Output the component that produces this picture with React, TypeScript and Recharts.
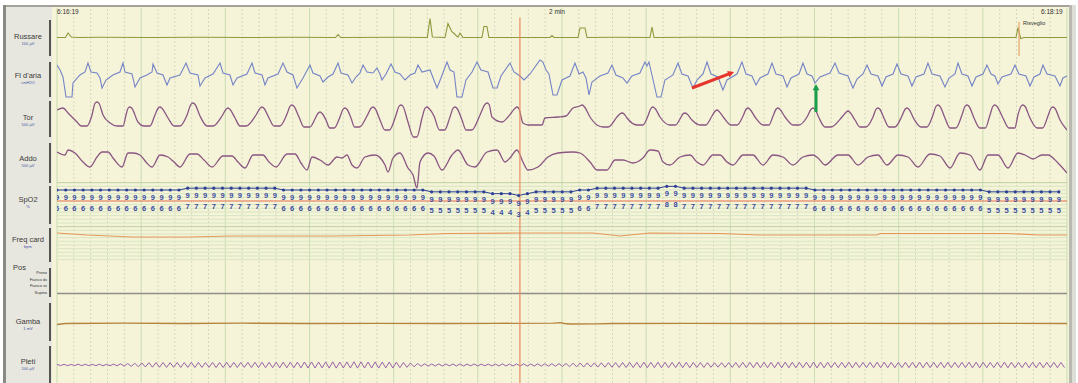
import React from 'react';
import { ComposedChart, Line, XAxis, YAxis, ReferenceLine } from 'recharts';

// 2 minute page, time in seconds
const majorTicks = [0, 10, 20, 30, 40, 50, 60, 70, 80, 90, 100, 110, 120];
const minorTicks = [2, 4, 6, 8, 12, 14, 16, 18, 22, 24, 26, 28, 32, 34, 36, 38, 42, 44, 46, 48, 52, 54, 56, 58, 62, 64, 66, 68, 72, 74, 76, 78, 82, 84, 86, 88, 92, 94, 96, 98, 102, 104, 106, 108, 112, 114, 116, 118];
const cursorTime = 55;
const arousalTime = 114.3;

// [t (s), value]
const russare = [[0,0],[1.0,0],[1.31,4.5],[1.7,0.5],[2.5,0],[5.1,0.2],[11,0],[17,0.3],[23,0],[28,0.2],[33.1,0],[33.39,3],[33.7,0],[40.7,0.3],[44.0,0],[44.32,19],[44.6,0.5],[46.1,0],[46.45,14],[46.9,6],[47.3,3],[47.64,0.3],[47.88,4.5],[48.23,0],[50.49,0],[50.73,11],[51.08,11],[51.32,0],[58.57,0],[58.81,2],[59.05,0],[61.9,0],[62.14,9.5],[62.73,9.5],[62.97,0],[66,0.2],[70.45,0],[70.69,10.5],[70.93,0],[76,0.3],[82,0],[88,0.2],[94,0],[100,0.3],[106,0],[113.94,0],[114.17,10],[114.5,-1],[114.9,0],[120,0]];

const flusso = [[0,13],[0.36,8],[0.71,1],[1.07,-19],[1.78,-19],[1.90,-5],[2.73,3],[3.33,6],[3.68,15],[4.04,6],[4.75,5],[5.11,0],[5.35,-10],[5.82,-2],[6.65,3],[7.48,6],[7.84,15],[8.08,6],[8.91,4],[9.27,-9],[9.86,0],[10.69,3],[11.29,6],[11.41,14],[11.88,5],[12.59,3],[13.07,-7],[13.43,0],[14.61,3],[15.33,15],[15.80,5],[16.75,3],[16.99,-8],[17.58,0],[18.53,4],[19.37,15],[19.72,5],[20.55,3],[20.91,-7],[21.39,0],[22.57,4],[23.17,15],[23.52,5],[24.36,3],[24.71,-7],[25.07,0],[26.26,4],[26.85,15],[27.33,6],[28.04,3],[28.51,-10],[29.23,0],[30.06,13],[30.41,5],[31.25,2],[31.60,-4],[32.20,1],[32.79,4],[33.39,15],[33.74,5],[34.57,3],[35.05,-5],[35.52,1],[36.00,5],[36.36,13],[36.83,6],[37.54,5],[38.02,10],[38.37,4],[38.61,-2],[39.09,4],[39.68,14],[40.16,6],[40.75,4],[41.35,-2],[41.94,3],[42.53,5],[42.89,13],[43.37,6],[44.32,8],[45.15,-10],[45.62,0],[46.34,16],[46.69,8],[47.17,6],[47.52,-19],[48.12,-19],[48.59,-2],[49.31,6],[49.90,16],[50.37,8],[51.21,6],[51.80,-10],[52.28,-10],[52.75,2],[53.82,15],[54.29,6],[55.01,2],[55.48,-2],[56.20,4],[57.38,18],[57.74,16],[58.10,8],[58.45,4],[58.93,-17],[59.40,-17],[60.00,-2],[60.95,2],[61.54,15],[62.02,4],[62.49,6],[62.85,0],[63.21,-17],[63.56,-4],[64.51,2],[65.46,5],[65.94,13],[66.41,3],[67.24,0],[67.72,-5],[68.31,2],[69.26,5],[69.85,16],[70.09,12],[70.33,16],[70.69,3],[71.28,-19],[71.76,-19],[72.23,-2],[73.18,3],[73.78,15],[74.25,4],[74.97,2],[75.56,-10],[76.04,-2],[76.75,4],[77.23,16],[77.70,4],[78.53,1],[79.12,-12],[79.60,-2],[80.79,4],[81.38,16],[81.86,4],[82.57,2],[83.05,-7],[83.52,0],[84.47,4],[84.95,15],[85.42,4],[86.26,2],[86.73,-9],[87.21,0],[88.16,4],[88.63,15],[89.11,4],[89.70,2],[90.06,-5],[90.65,1],[91.84,5],[92.44,15],[92.91,5],[93.98,2],[94.57,-10],[95.05,-1],[95.76,4],[96.24,13],[96.71,4],[97.54,2],[98.02,-8],[98.49,1],[99.33,4],[99.80,14],[100.28,4],[101.11,2],[101.58,-8],[102.06,1],[103.01,4],[103.48,15],[103.96,4],[104.91,2],[105.50,-9],[105.98,0],[106.69,4],[107.05,15],[107.52,4],[108.23,2],[108.71,-8],[109.19,1],[110.02,4],[110.49,13],[110.97,4],[111.44,2],[111.80,-6],[112.27,1],[113.34,4],[113.82,13],[114.29,4],[115.12,2],[115.60,-8],[116.08,1],[116.79,4],[117.14,13],[117.62,4],[118.57,2],[119.16,-8],[119.52,0],[120,2]];

const torace = [
  [0,15],[0.71,17],[1.31,12],[2.38,3],[2.86,-1],[3.56,-1],
  [4.16,10],[4.5,21.5],[4.75,23],[5.0,21.5],[5.47,10],[6.30,2],[7.14,-1],[7.84,-1],
  [8.20,10],[8.42,16.5],[8.67,18],[8.92,16.5],[9.62,3],[10.34,-1],[11.04,-1],
  [11.64,10],[11.99,16.5],[12.24,18],[12.49,16.5],[13.19,7],[13.91,-1],[14.61,-1],
  [15.45,10],[15.91,20.5],[16.16,22],[16.41,20.5],[16.99,9],[17.83,-1],[18.53,-1],
  [19.60,9],[20.07,15.5],[20.32,17],[20.57,15.5],[21.15,7],[21.75,-1],[22.45,-1],
  [23.64,10],[24.11,16.5],[24.36,18],[24.61,16.5],[25.19,7],[25.79,-1],[26.49,-1],
  [27.33,11],[27.67,18.5],[27.92,20],[28.17,18.5],[28.75,8],[29.35,-2],[30.05,-2],
  [30.65,6],[31.0,11.5],[31.25,13],[31.5,11.5],[31.96,5],[32.4,-3],[32.95,-3],
  [33.62,8],[33.97,15.5],[34.22,17],[34.47,15.5],[34.93,7],[35.35,-2],[35.95,-2],
  [36.83,9],[37.29,16.5],[37.54,18],[37.79,16.5],[38.38,5],[38.95,-5],[39.5,-5],
  [40.28,10],[40.62,18.5],[40.87,20],[41.12,18.5],[41.70,3],[42.35,-12],[42.75,-12],
  [43.37,7],[43.71,16.5],[43.96,18],[44.21,16.5],[44.79,9],[45.45,-5],[46.05,-5],
  [46.69,8],[47.04,16.5],[47.29,18],[47.54,16.5],[48.12,5],[48.6,-5],[49.3,-5],
  [50.26,10],[50.84,20.5],[51.09,22],[51.34,20.5],[51.68,8],[52.87,3],[53.58,8],
  [54.4,16.5],[54.65,18],[54.9,16],[55.36,2],[56.0,0],[57.62,0],[57.98,7],[59.52,8],[60.47,9],
  [61.31,17],[62.13,19],[62.38,20],[62.63,18.5],[63.33,8],[64.16,0],[64.9,-2],[65.5,-2],
  [66.53,8],[66.88,11],[67.13,12],[67.38,11],[67.72,7],[68.9,0],[69.6,0],
  [70.21,9],[70.56,16.5],[70.81,18],[71.06,16.5],[71.64,8],[72.8,0],[73.5,0],
  [74.02,6],[74.36,11],[74.61,12],[74.86,11],[75.44,5],[76.4,0],[77.1,0],
  [77.82,9],[78.16,13.5],[78.41,15],[78.66,13.5],[79.25,7],[80.1,0],[80.8,0],
  [81.51,9],[81.85,15.5],[82.10,17],[82.35,15.5],[82.93,8],[83.9,0],[84.6,0],
  [85.07,9],[85.41,15.5],[85.66,17],[85.91,15.5],[86.50,8],[87.45,0],[88.15,0],
  [89.11,8],[89.57,15.5],[89.82,17],[90.07,15.5],[90.54,7],[91.25,-2],[91.95,-2],
  [93.27,8],[93.73,12.5],[93.98,14],[94.23,12.5],[94.81,5],[95.4,-2],[96.1,-2],
  [96.95,8],[97.29,15.5],[97.54,17],[97.79,15.5],[98.25,7],[98.85,-2],[99.55,-2],
  [100.39,9],[100.74,15.5],[100.99,17],[101.24,15.5],[101.82,6],[102.65,-2],[103.35,-2],
  [104.08,10],[104.42,18.5],[104.67,20],[104.92,18.5],[105.50,7],[106.1,-3],[106.8,-3],
  [107.52,10],[107.87,18.5],[108.12,20],[108.37,18.5],[108.95,7],[109.65,-3],[110.3,-3],
  [110.85,10],[111.19,18.5],[111.44,20],[111.69,18.5],[112.39,7],[113.1,-3],[113.8,-3],
  [114.17,10],[114.52,18.5],[114.77,20],[115.02,18.5],[115.60,7],[116.45,-3],[117.1,-3],
  [117.74,9],[118.08,16.5],[118.33,18],[118.58,16.5],[119.17,5],[120,-5],
];

const addome = [[0,15],[0.95,12],[1.31,17],[2.14,14],[3.09,5],[3.92,0],[4.75,10],[5.35,15],[6.06,15],[6.65,9],[7.72,0],[8.44,14],[9.03,14],[9.86,12],[10.57,5],[11.29,0],[12.24,12],[13.19,10],[13.90,5],[14.61,0],[15.80,13],[16.63,13],[17.47,7],[18.42,0],[19.72,11],[20.79,11],[21.50,5],[22.34,-1],[23.29,12],[24.47,12],[25.19,5],[26.02,0],[27.33,13],[28.28,13],[28.99,4],[29.70,-3],[30.30,10],[31.25,7],[32.20,2],[33.27,10],[33.86,9],[34.45,12],[35.05,2],[35.64,-1],[36.59,10],[37.78,12],[38.97,2],[39.33,-5],[39.92,9],[40.75,14],[41.70,-1],[42.30,-8],[42.77,-21],[43.13,5],[44.08,14],[44.79,11],[45.74,-3],[46.93,12],[47.64,17],[48.83,2],[49.66,0],[51.09,15],[52.28,17],[53.23,5],[53.82,9],[54.65,17],[55.36,5],[55.96,-3],[57.15,0],[58.33,10],[59.52,14],[61.31,15],[62.14,14],[63.33,5],[64.16,-3],[65.35,-3],[66.30,7],[67.25,7],[68.43,4],[69.62,9],[70.45,17],[71.40,16],[72.00,5],[72.83,2],[74.02,10],[75.21,12],[76.04,5],[76.75,2],[77.94,12],[78.77,12],[79.60,5],[80.32,2],[81.51,12],[82.69,12],[83.88,2],[85.07,12],[86.26,10],[87.44,2],[88.63,10],[89.82,12],[90.42,9],[91.25,2],[92.79,12],[93.98,12],[95.17,2],[96.36,10],[97.54,12],[98.61,2],[99.92,12],[101.11,10],[102.29,0],[103.72,13],[104.91,11],[106.10,-1],[107.29,14],[108.47,12],[109.66,-3],[110.61,12],[111.80,12],[112.99,-1],[114.17,14],[115.01,12],[115.96,8],[117.03,12],[117.74,12],[118.93,4],[120,-6]];

// SpO2 %, one reading per column
const SPO2_STEP = 1.035;
const spo2 = [
  96, 96, 96, 96, 96, 96, 96, 96, 96, 96, 96, 96, 96, 96, 96,
  97, 97, 97, 97, 97, 97, 97, 97, 97, 97, 97,
  96, 96, 96, 96, 96, 96, 96, 96, 96, 96, 96, 96, 96, 96, 96, 96, 96,
  95, 95, 95, 95, 95, 95, 95,
  94, 94, 94, 93, 94,
  95, 95, 95, 95, 95, 96, 96,
  97, 97, 97, 97, 97, 97, 97, 97, 98, 98,
  97, 97, 97, 97, 97, 97, 97, 97, 97, 97, 97, 97, 97, 97, 97,
  96, 96, 96, 96, 96, 96, 96, 96, 96, 96, 96, 96, 96, 96, 96, 96, 96, 96, 96, 96,
  95, 95, 95, 95, 95, 95, 95, 95, 95,
];
const spo2Threshold = 90;
const spo2Grid = [100, 98, 96, 94, 92, 88, 86, 84, 82, 80, 78, 76, 74, 72, 70, 68, 66, 64, 62, 60, 58];

const freqCard = [[0,64],[3.56,62],[9.03,60],[15.45,60],[20.91,61],[32.79,61],[41.94,62],[46.34,63.5],[54.65,64],[63.68,64],[66.89,61],[70.45,64],[78.77,63.5],[83.52,62],[97.42,62],[97.78,63.5],[112.87,63.5],[116.79,62],[120,62]];

const posizione = [[0,0],[120,0]];

const gamba = [[0,-1],[1,0],[8,0.3],[15,0],[22,0.3],[30,0],[38,0.2],[46,0],[52,0.2],[59,0.3],[59.8,0.8],[60.3,0],[61,-0.5],[64,-0.3],[66,0],[75,0.2],[85,0],[95,0.2],[105,0],[112,0.2],[120,0]];

const PLETI_STEP = 0.42;
const pleti = [
  0.6,-0.6,0.7,-0.7,0.6,-0.6,0.8,-0.7,0.7,-0.6,0.7,-0.7,0.8,-0.8,0.7,-0.7,0.9,-0.8,1.2,-1.1,1.5,-1.4,
  1.8,-1.8,2.0,-2.0,2.3,-2.2,2.4,-2.3,2.5,-2.4,2.4,-2.3,2.5,-2.5,2.4,-2.4,2.6,-2.5,2.5,-2.4,2.4,-2.4,2.6,-2.5,2.5,-2.5,2.7,-2.6,2.6,-2.5,2.5,-2.4,2.6,-2.6,2.7,-2.6,2.8,-2.7,2.7,-2.7,2.8,-2.8,2.9,-2.8,2.8,-2.8,2.9,-2.9,
  3.0,-3.0,3.1,-3.0,3.0,-2.9,3.1,-3.1,3.2,-3.1,3.0,-3.0,3.1,-3.0,3.2,-3.1,3.1,-3.0,3.0,-3.0,3.1,-3.1,3.0,-2.9,3.0,-3.0,2.8,-2.7,2.5,-2.3,2.0,-1.8,1.5,
  -1.3,1.2,-1.1,1.0,-1.0,1.1,-1.0,1.0,-0.9,1.0,-1.0,1.1,-1.0,0.9,-0.9,1.0,-1.0,0.9,-0.8,0.9,-0.9,1.0,-1.0,1.1,-1.0,1.0,-1.0,1.1,-1.1,1.2,-1.1,1.1,-1.1,1.2,-1.2,1.3,-1.2,1.3,-1.3,1.4,-1.4,1.5,
  -1.7,1.8,-1.9,2.0,-2.0,2.1,-2.0,2.1,-2.1,2.2,-2.2,2.3,-2.3,2.4,-2.4,
  2.5,-2.5,2.6,-2.6,2.7,-2.7,2.8,-2.7,2.7,-2.6,2.8,-2.8,2.7,-2.7,2.6,-2.6,2.8,-2.7,2.7,-2.7,
  2.6,-2.5,2.4,-2.4,2.3,-2.3,2.2,-2.2,2.3,-2.3,2.4,-2.4,2.5,-2.5,2.6,-2.6,2.7,-2.7,2.8,-2.8,
  2.8,-2.7,2.7,-2.7,2.8,-2.8,2.9,-2.8,2.8,-2.8,2.7,-2.7,2.8,-2.8,2.9,-2.9,2.8,-2.8,2.7,-2.7,
  2.6,-2.6,2.7,-2.7,2.8,-2.8,2.7,-2.6,2.6,-2.6,2.7,-2.7,2.8,-2.8,2.8,-2.7,2.7,-2.7,2.6,-2.6,
  2.7,-2.7,2.8,-2.8,2.9,-2.8,2.8,-2.7,2.7,-2.7,2.8,-2.8,2.7,-2.7,2.6,-2.6,2.7,-2.7,2.8,-2.8,
  2.8,-2.8,2.7,-2.7,2.6,-2.6,2.7,-2.7,2.8,-2.8,2.7,-2.7,2.6,-2.6,2.7,-2.7,2.8,-2.8,2.7,-2.7,
  2.6,-2.6,2.7,-2.7,2.6,-2.6,
];

// annotation arrows on the flow trace: [t, value] tail -> head
const redArrow = [[75.44, -10], [80.44, 6]];
const greenArrow = [[90.18, -34], [90.18, -6]];

const W = 1078;
const H = 383;
const PLOT = { left: 57, right: 1067, top: 8, bottom: 383 };

// y-axis domain so that value v1 lands at pixel y1 and v2 at pixel y2
function band(v1: number, y1: number, v2: number, y2: number): [number, number] {
  const k = (y2 - y1) / (v1 - v2);
  return [v1 - (PLOT.bottom - y1) / k, v1 + (y1 - PLOT.top) / k];
}

const pts = (a: number[][]) => a.map(([t, v]) => ({ t, v }));
const spo2Data = spo2.map((v, i) => ({ t: i * SPO2_STEP, v }));
const pletiData = pleti.map((v, i) => ({ t: i * PLETI_STEP, v }));

const channels = [
  { name: 'Russare', unit: '100 µV', y: 33 },
  { name: "Fl d'aria", unit: 'cmH2O', y: 72 },
  { name: 'Tor', unit: '500 µV', y: 114 },
  { name: 'Addo', unit: '500 µV', y: 155 },
  { name: 'SpO2', unit: '%', y: 196 },
  { name: 'Freq card', unit: 'bpm', y: 236 },
  { name: 'Gamba', unit: '1 mV', y: 318 },
  { name: 'Pleti', unit: '100 µV', y: 358 },
];
const brackets = [[20, 56], [62, 97], [101, 137], [143, 183], [186, 224], [228, 262], [268, 297], [303, 341], [346, 383]];
const posLabels = ['Prono', 'Fianco dx', 'Fianco sx', 'Supino'];

const NAVY = '#2e3f96';

function SpO2Dot(props: any) {
  const { cx, cy, payload, index } = props;
  if (cx == null || cy == null) return null;
  const v = payload.v;
  return (
    <g key={`spo2-${index}`}>
      <circle cx={cx} cy={cy} r={1.6} fill={NAVY} />
      <text x={cx} y={cy + 10} textAnchor="middle" fontSize={7.5} fontWeight="bold" fill="#3b4ca2" fontFamily="Liberation Sans, Arial, sans-serif">
        {Math.floor(v / 10)}
      </text>
      <text x={cx} y={cy + 21} textAnchor="middle" fontSize={7.5} fontWeight="bold" fill="#3b4ca2" fontFamily="Liberation Sans, Arial, sans-serif">
        {v % 10}
      </text>
    </g>
  );
}

function arrowShape(color: string) {
  return (props: any) => {
    const { x1, y1, x2, y2 } = props;
    const a = Math.atan2(y2 - y1, x2 - x1);
    const s = 7;
    const p1 = `${x2},${y2}`;
    const p2 = `${x2 - s * Math.cos(a - 0.5)},${y2 - s * Math.sin(a - 0.5)}`;
    const p3 = `${x2 - s * Math.cos(a + 0.5)},${y2 - s * Math.sin(a + 0.5)}`;
    return (
      <g>
        <line x1={x1} y1={y1} x2={x2 - 4 * Math.cos(a)} y2={y2 - 4 * Math.sin(a)} stroke={color} strokeWidth={3} />
        <polygon points={`${p1} ${p2} ${p3}`} fill={color} />
      </g>
    );
  };
}

const axisProps = { hide: true, type: 'number' as const, allowDataOverflow: true };

export default function App() {
  return (
    <div style={{ position: 'absolute', left: 0, top: 0, width: W, height: H, background: '#fff', overflow: 'hidden', fontFamily: 'Liberation Sans, Arial, sans-serif' }}>
      {/* frame */}
      <div style={{ position: 'absolute', left: 3, top: 5, width: 1072, height: 2, background: '#a3a39c' }} />
      <div style={{ position: 'absolute', left: 3, top: 5, width: 3, height: 378, background: '#8a8a84' }} />
      <div style={{ position: 'absolute', left: 6, top: 7, width: 46, height: 376, background: '#e8e7df' }} />
      <div style={{ position: 'absolute', left: 52, top: 7, width: 1017, height: 376, background: '#f5f3d8' }} />
      <div style={{ position: 'absolute', left: 1069, top: 5, width: 3, height: 378, background: '#b9b9b1' }} />
      <div style={{ position: 'absolute', left: 1072, top: 5, width: 4, height: 378, background: '#deded8' }} />

      {brackets.map(([a, b], i) => (
        <div key={i} style={{ position: 'absolute', left: 49, top: a, width: 2, height: b - a, background: '#55554f' }} />
      ))}

      <ComposedChart width={W} height={H} margin={{ top: PLOT.top, right: W - PLOT.right, bottom: H - PLOT.bottom, left: PLOT.left }} style={{ position: 'absolute', left: 0, top: 0 }}>
        <XAxis dataKey="t" domain={[0, 120]} {...axisProps} />
        <YAxis yAxisId="russare" domain={band(0, 37.5, -1, 38.5)} {...axisProps} />
        <YAxis yAxisId="flow" domain={band(0, 78, -1, 79)} {...axisProps} />
        <YAxis yAxisId="tor" domain={band(0, 125, -1, 126)} {...axisProps} />
        <YAxis yAxisId="addo" domain={band(0, 167, -1, 168)} {...axisProps} />
        <YAxis yAxisId="spo2" domain={band(96, 190, 90, 201)} {...axisProps} />
        <YAxis yAxisId="hr" domain={band(62, 235, 61, 236)} {...axisProps} />
        <YAxis yAxisId="pos" domain={band(0, 293.5, 1, 287.5)} {...axisProps} />
        <YAxis yAxisId="gamba" domain={band(0, 323.5, -1, 324.5)} {...axisProps} />
        <YAxis yAxisId="pleti" domain={band(0, 365, -1, 366)} {...axisProps} />

        {minorTicks.map((t) => (
          <ReferenceLine key={`mi${t}`} x={t} yAxisId="flow" stroke="#d6d9c0" strokeDasharray="2 2" />
        ))}
        {majorTicks.map((t) => (
          <ReferenceLine key={`ma${t}`} x={t} yAxisId="flow" stroke="#c9ddb2" />
        ))}
        {spo2Grid.map((v) => (
          <ReferenceLine key={`g${v}`} y={v} yAxisId="spo2" stroke={v === 100 || v === 76 ? '#bcd0a4' : '#d6e6c2'} />
        ))}

        <Line data={pts(russare)} dataKey="v" yAxisId="russare" stroke="#8d9a3b" strokeWidth={1.1} dot={false} isAnimationActive={false} />
        <Line data={pts(flusso)} dataKey="v" yAxisId="flow" stroke="#7484c6" strokeWidth={1.1} dot={false} isAnimationActive={false} />
        <Line data={pts(torace)} dataKey="v" yAxisId="tor" type="monotone" stroke="#8a5682" strokeWidth={1.3} dot={false} isAnimationActive={false} />
        <Line data={pts(addome)} dataKey="v" yAxisId="addo" type="monotone" stroke="#8a5682" strokeWidth={1.3} dot={false} isAnimationActive={false} />
        <ReferenceLine y={spo2Threshold} yAxisId="spo2" stroke="#e46f4c" strokeWidth={1.2} />
        <Line data={spo2Data} dataKey="v" yAxisId="spo2" stroke={NAVY} strokeWidth={1} dot={SpO2Dot} isAnimationActive={false} />
        <Line data={pts(freqCard)} dataKey="v" yAxisId="hr" stroke="#e6975a" strokeWidth={1.2} dot={false} isAnimationActive={false} />
        <Line data={pts(posizione)} dataKey="v" yAxisId="pos" stroke="#8f8f86" strokeWidth={1.5} dot={false} isAnimationActive={false} />
        <Line data={pts(gamba)} dataKey="v" yAxisId="gamba" stroke="#b5843c" strokeWidth={1.3} dot={false} isAnimationActive={false} />
        <Line data={pletiData} dataKey="v" yAxisId="pleti" stroke="#9b62a8" strokeWidth={1} dot={false} isAnimationActive={false} />

        <ReferenceLine yAxisId="russare" segment={[{ x: cursorTime, y: 20 }, { x: cursorTime, y: -346 }]} stroke="#ea8c5e" strokeWidth={1.2} ifOverflow="visible" />
        <ReferenceLine yAxisId="russare" segment={[{ x: arousalTime, y: 15.5 }, { x: arousalTime, y: -18.5 }]} stroke="#e9a46c" strokeWidth={1.2} ifOverflow="visible" />
        <ReferenceLine yAxisId="flow" segment={[{ x: redArrow[0][0], y: redArrow[0][1] }, { x: redArrow[1][0], y: redArrow[1][1] }]} shape={arrowShape('#e6332c')} ifOverflow="visible" />
        <ReferenceLine yAxisId="flow" segment={[{ x: greenArrow[0][0], y: greenArrow[0][1] }, { x: greenArrow[1][0], y: greenArrow[1][1] }]} shape={arrowShape('#1b9e4b')} ifOverflow="visible" />
      </ComposedChart>

      {/* header */}
      <div style={{ position: 'absolute', left: 57, top: 8, fontSize: 6.5, color: '#333' }}>6:16:19</div>
      <div style={{ position: 'absolute', left: 549, top: 8, fontSize: 6.5, color: '#333' }}>2 min</div>
      <div style={{ position: 'absolute', left: 1041, top: 8, fontSize: 6.5, color: '#333' }}>6:18:19</div>
      <div style={{ position: 'absolute', left: 1023, top: 20, fontSize: 5.5, color: '#333' }}>Risveglio</div>

      {/* left panel */}
      {channels.map((c) => (
        <div key={c.name} style={{ position: 'absolute', left: 6, top: c.y, width: 44, textAlign: 'center', lineHeight: 1 }}>
          <div style={{ fontSize: 7.5, color: '#3a3a3a', whiteSpace: 'nowrap' }}>{c.name}</div>
          <div style={{ fontSize: 4, color: '#4655a8', marginTop: 1 }}>{c.unit}</div>
        </div>
      ))}
      <div style={{ position: 'absolute', left: 13, top: 263, fontSize: 7.5, color: '#3a3a3a' }}>Pos</div>
      {posLabels.map((p, i) => (
        <div key={p} style={{ position: 'absolute', right: W - 47, top: 270 + i * 6.5, fontSize: 4, color: '#333', whiteSpace: 'nowrap' }}>{p}</div>
      ))}
    </div>
  );
}
